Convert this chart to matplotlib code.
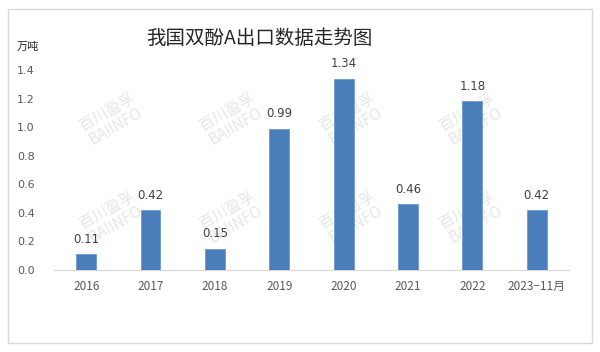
import matplotlib
matplotlib.use("Agg")
import matplotlib.pyplot as plt
from matplotlib.patches import Rectangle

plt.rcParams['font.family'] = ['Noto Sans CJK SC', 'DejaVu Sans']

# data
years = ['2016', '2017', '2018', '2019', '2020', '2021', '2022', '2023\u221211月']
export = [0.11, 0.42, 0.15, 0.99, 1.34, 0.46, 1.18, 0.42]
yticks = [0.0, 0.2, 0.4, 0.6, 0.8, 1.0, 1.2, 1.4]

bar_c = '#4a7ebb'
txt_c = '#404040'

fig = plt.figure(figsize=(6, 3.52), dpi=100)
fig.patch.set_facecolor('white')

# outer frame
fig.patches.append(Rectangle((8/600, 9/352), 584/600, 334/352, transform=fig.transFigure,
                             fill=False, edgecolor='#d9d9d9', linewidth=1.0))

ax = fig.add_axes([0.09, 0.233, 0.858, 0.568])
ax.set_zorder(2)

# watermark (behind bars)
for wx in [112, 232, 352, 472]:
    for wy in [120, 218]:
        fig.text(wx/600, 1 - wy/352, '百川盈孚\nBAIINFO', color='#e6e6e6', fontsize=11,
                 rotation=30, ha='center', va='center', linespacing=0.9,
                 zorder=0)

x = range(len(years))
ax.bar(x, export, width=0.31, color=bar_c, edgecolor='#6d9ad0', linewidth=0.6, zorder=3)
for xi, v in zip(x, export):
    ax.annotate(f'{v:.2f}', (xi, v), xytext=(0, 6), textcoords='offset points',
                ha='center', va='bottom', fontsize=8.5, color=txt_c,
                family='DejaVu Sans', annotation_clip=False)

ax.set_xlim(-0.5, len(years) - 0.5)
ax.set_ylim(0, 1.4)
ax.set_yticks(yticks)
ax.set_yticklabels([f'{t:.1f}' for t in yticks], family='DejaVu Sans')
ax.set_xticks(list(x))
ax.set_xticklabels(years)
ax.tick_params(axis='y', length=0, pad=14, labelsize=8, labelcolor='#595959')
ax.tick_params(axis='x', length=0, pad=7, labelsize=8.5, labelcolor='#595959')
for s in ['top', 'right', 'left']:
    ax.spines[s].set_visible(False)
ax.spines['bottom'].set_color('#d9d9d9')
ax.patch.set_alpha(0)

fig.text(0.433, 1 - 38/352, '我国双酚A出口数据走势图', ha='center', va='center',
         fontsize=14, color='#262626', fontweight='medium')
fig.text(28/600, 1 - 47/352, '万吨', ha='center', va='center', fontsize=8, color='#262626')

fig.savefig('out.png', dpi=100)
